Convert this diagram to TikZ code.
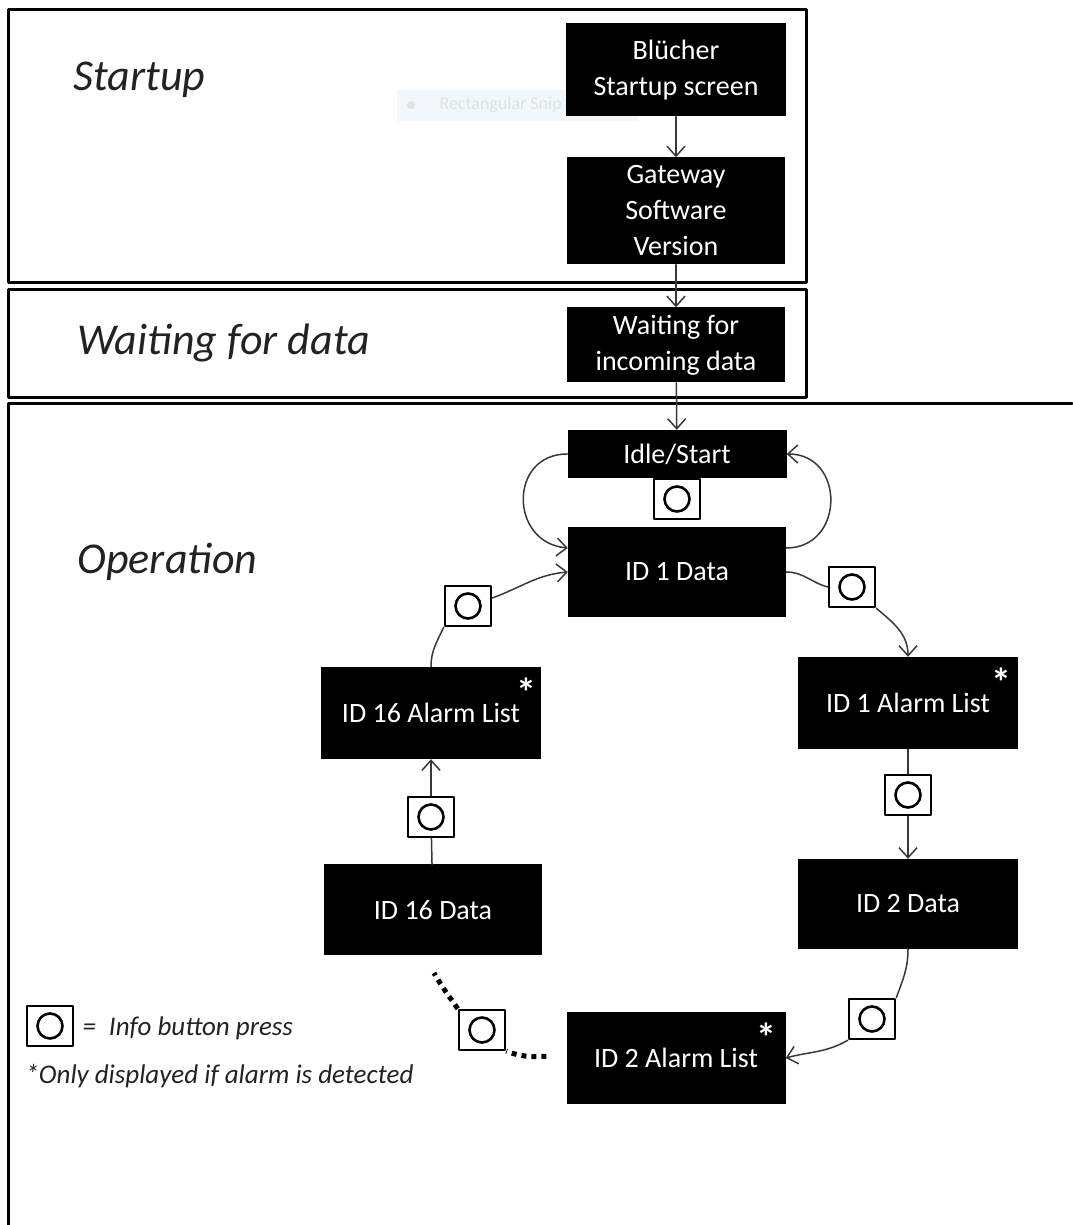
\documentclass[tikz,border=0pt]{standalone}
\usepackage{fontspec}
\setmainfont{Carlito}
\usetikzlibrary{arrows.meta}
\definecolor{snipblue}{HTML}{F3F7FC}
\definecolor{snipgrey}{HTML}{DDE2E8}
\definecolor{inkgrey}{HTML}{222222}

\begin{document}
\begin{tikzpicture}[x=1pt,y=1pt,>={Straight Barb[length=10pt,width=18pt]},line cap=round,line join=round,
  screen/.style={fill=black,text=white,align=center,inner sep=0pt,font=\fontsize{28}{36}\selectfont},
  infobtn/.style={draw,line width=2.6pt,fill=white,minimum width=46pt,minimum height=40pt,inner sep=0pt,
    path picture={\draw[line width=2.6pt] (path picture bounding box.center) circle (12.5pt);}},
  flow/.style={draw=black!78,line width=1.5pt},
  dots/.style={line width=5pt,line cap=butt,dash pattern=on 5pt off 5pt},
  frame/.style={line width=3pt},
  phase/.style={anchor=west,text=inkgrey,font=\fontsize{44}{52}\selectfont\itshape},
  note/.style={anchor=west,text=inkgrey,font=\fontsize{27}{32}\selectfont\itshape},
  alarmstar/.style={anchor=north,text=white,inner sep=0pt,font=\fontsize{40}{40}\selectfont\bfseries}]
\useasboundingbox (0,0) rectangle (1072,1225);
% faint snipping tool tooltip
\node[fill=snipblue,minimum width=241pt,minimum height=31pt,inner sep=0pt] (snip) at (517.5,1119.5) {};
\fill[snipgrey] (411,1120) circle (4pt);
\node[anchor=west,text=snipgrey,font=\fontsize{18}{20}\selectfont] (sniptext) at (436,1120) {Rectangular Snip};
% phases
\draw[frame] (8,1215) rectangle (806,942);
\draw[frame] (8,935) rectangle (806,827);
\draw[frame] (1072,821) -- (8,821) -- (8,-5);
\node[phase] (startup) at (70,1145) {Startup};
\node[phase] (waiting) at (74,882) {Waiting for data};
\node[phase] (operation) at (74,663) {Operation};
% screens
\node[screen,minimum width=220pt,minimum height=93pt] (blucher) at (676,1155) {Blücher\\Startup screen};
\node[screen,minimum width=218pt,minimum height=107pt] (gateway) at (676,1014) {Gateway\\Software\\Version};
\node[screen,minimum width=218pt,minimum height=75pt] (incoming) at (676,880) {Waiting for\\incoming data};
\node[screen,minimum width=219pt,minimum height=48pt] (idle) at (677,771) {Idle/Start};
\node[screen,minimum width=218pt,minimum height=90pt] (id1) at (677,653) {ID 1 Data};
\node[screen,minimum width=220pt,minimum height=92pt] (id1alarm) at (908,522) {ID 1 Alarm List};
\node[screen,minimum width=220pt,minimum height=90pt] (id2) at (908,321) {ID 2 Data};
\node[screen,minimum width=219pt,minimum height=92pt] (id2alarm) at (676,167) {ID 2 Alarm List};
\node[screen,minimum width=218pt,minimum height=91pt] (id16) at (433,315) {ID 16 Data};
\node[screen,minimum width=220pt,minimum height=92pt] (id16alarm) at (431,512) {ID 16 Alarm List};
\node[alarmstar] (star1) at ([xshift=-17pt,yshift=-11pt]id1alarm.north east) {*};
\node[alarmstar] (star2) at ([xshift=-19pt,yshift=-11pt]id2alarm.north east) {*};
\node[alarmstar] (star16) at ([xshift=-15pt,yshift=-11pt]id16alarm.north east) {*};
% info button presses
\node[infobtn] (b0) at (677,726) {};
\node[infobtn] (b1) at (852,638) {};
\node[infobtn] (b2) at (908,430) {};
\node[infobtn] (b3) at (872,206) {};
\node[infobtn] (b4) at (482,195) {};
\node[infobtn] (b5) at (431,408) {};
\node[infobtn] (b6) at (468,619) {};
\coordinate (dotfree) at (434,252);
% connectors
\draw[flow,->] (blucher) -- (gateway);
\draw[flow,->] (gateway) -- (incoming);
\draw[flow,->] (incoming) -- (idle);
\draw[flow,->] (idle.west) to[out=180,in=175,looseness=1.6] ([yshift=24pt]id1.west);
\draw[flow,->] ([yshift=24pt]id1.east) to[out=0,in=0,looseness=1.6] (idle.east);
\draw[flow] (id1.east) to[out=0,in=165] (b1.west);
\draw[flow,->] (b1.south east) to[out=-40,in=90] (id1alarm.north);
\draw[flow] (id1alarm) -- (b2);
\draw[flow,->] (b2) -- (id2);
\draw[flow] (id2.south) to[out=-90,in=70] (b3.north east);
\draw[flow,->] (b3.south west) to[out=210,in=15] (id2alarm.east);
\draw[dots,shorten <=20pt] (id2alarm.west) to[out=175,in=-20] (b4.south east);
\draw[dots] (b4.north west) to[out=125,in=-60] (dotfree);
\draw[flow] (id16) -- (b5);
\draw[flow,->] (b5) -- (id16alarm);
\draw[flow] (id16alarm.north) to[out=90,in=-115] (b6.south west);
\draw[flow,->] ([yshift=8pt]b6.east) to[out=20,in=185] (id1.west);
% legend
\node[infobtn] (legbtn) at (50,199) {};
\node[note] (legpress) at (79,197) {=\hspace{13pt}Info button press};
\node[note] (legstar) at (22,149) {*Only displayed if alarm is detected};
\end{tikzpicture}
\end{document}
